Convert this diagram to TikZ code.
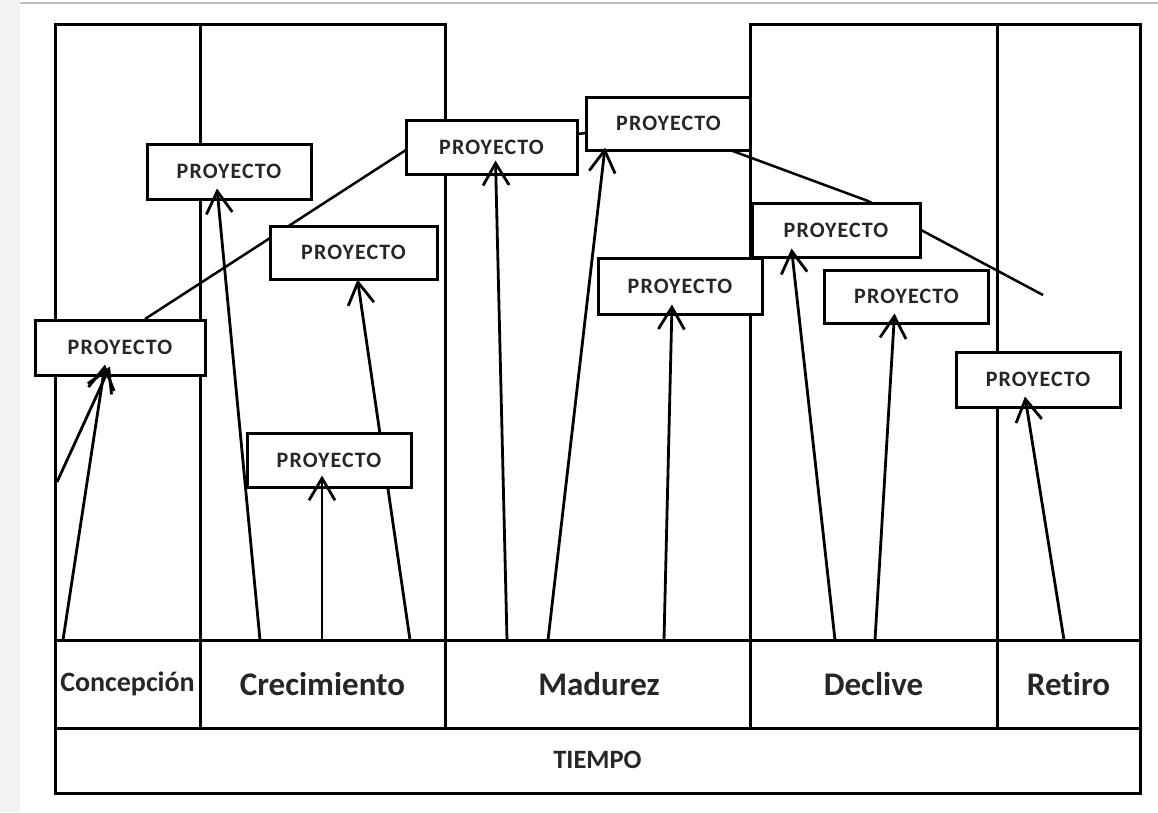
\documentclass[tikz,border=0pt]{standalone}
\usepackage{fontspec}
\setmainfont[Ligatures=NoCommon]{Carlito}
\usetikzlibrary{calc,arrows.meta}

\tikzset{
  marco/.style={line width=3pt, line cap=rect},
  proy/.style={draw, line width=3pt, fill=white, minimum width=164pt, minimum height=55pt,
    inner sep=0pt, text=black!85, font=\bfseries\fontsize{22}{22}\selectfont\addfontfeatures{LetterSpace=5}},
  fase/.style={text=black!85, font=\bfseries\fontsize{33}{33}\selectfont},
  flecha/.style={line width=2.8pt, -{Straight Barb[length=22pt,width=26pt,line width=2.8pt]}},
  curva/.style={line width=2.5pt},
}

\begin{document}
\begin{tikzpicture}[x=1pt,y=-1pt]
\useasboundingbox (0,0) rectangle (1158,812);
\fill[black!5] (0,0) rectangle (20,812);
\draw[black!25,line width=1.5pt] (20,3) -- (1158,3);

% marco de fases
\draw[marco] (445,24) -- (55,24) -- (55,793) -- (1140,793) -- (1140,24) -- (750,24);
\draw[marco] (200,24) -- (200,728)  (445,24) -- (445,728)
             (750,24) -- (750,728)  (997,24) -- (997,728);
\draw[marco] (55,640) -- (1140,640)  (55,728) -- (1140,728);

\node[fase,font=\bfseries\fontsize{28}{28}\selectfont] (concep) at (127.5,684) {Concepción};
\node[fase] (crec) at (322.5,684) {Crecimiento};
\node[fase] (madur) at (599,684) {Madurez};
\node[fase] (decl) at (873.5,684) {Declive};
\node[fase] (retiro) at (1068.5,684) {Retiro};
\node[fase,font=\bfseries\fontsize{26.5}{26.5}\selectfont] (tiempo) at (597.5,760) {TIEMPO};

% curva del ciclo
\coordinate (c0) at (57,482);
\coordinate (c1) at (145,319);
\coordinate (c2) at (406,150);
\coordinate (c3) at (587,133);
\coordinate (c4) at (730,150);
\coordinate (c5) at (868,201);
\coordinate (c6) at (921,230);
\coordinate (c7) at (1043,295);
\draw[curva] (c1) -- (c2) -- (c3) -- (c4) -- (c5) -- (c6) -- (c7);

% proyectos
\node[proy,minimum width=170pt] (pA) at (120,347.5) {PROYECTO};
\node[proy] (pB) at (229,171.5) {PROYECTO};
\node[proy,minimum width=167pt,minimum height=53pt] (pC) at (353.5,252.5) {PROYECTO};
\node[proy,minimum width=171pt,minimum height=54pt] (pE) at (491.5,147) {PROYECTO};
\node[proy,minimum height=53pt] (pF) at (668.5,123.5) {PROYECTO};
\node[proy,minimum height=56pt] (pG) at (680,286) {PROYECTO};
\node[proy,minimum width=168pt,minimum height=54pt] (pH) at (836,230) {PROYECTO};
\node[proy,minimum height=53pt] (pI) at (906.5,296.5) {PROYECTO};
\node[proy] (pJ) at (1038,379.5) {PROYECTO};

% salidas en la linea de fases
\coordinate (sA) at (63,640);
\coordinate (sB) at (260,640);
\coordinate (sD) at (322,640);
\coordinate (sC) at (410,640);
\coordinate (sE) at (507,640);
\coordinate (sF) at (548,640);
\coordinate (sG) at (664,640);
\coordinate (sH) at (835,640);
\coordinate (sI) at (875,640);
\coordinate (sJ) at (1064,640);

\draw[flecha] (c0) -- ($(pA.south)+(-10,-10)$);
\draw[flecha] (sA) -- ($(pA.south)+(-15,-12)$);
\draw[flecha] (sB) -- ($(pB.south)+(-12,-12)$);
\draw[flecha] (sC) -- ($(pC.south)+(4,-1)$);
\draw[flecha] (sE) -- ($(pE.south)+(4,-15)$);
\draw[flecha] (sF) -- ($(pF.south west)+(20,-4)$);
\draw[flecha] (sG) -- ($(pG.south)+(-8,-11)$);
\draw[flecha] (sH) -- ($(pH.south west)+(41,-10)$);
\draw[flecha] (sI) -- ($(pI.south)+(-12,-11)$);
\draw[flecha] (sJ) -- ($(pJ.south)+(-13,-12)$);

% este tapa la flecha de pC
\node[proy,minimum height=54pt] (pD) at (329,460) {PROYECTO};
\draw[flecha] (sD) -- ($(pD.south)+(-7,-13)$);
\end{tikzpicture}
\end{document}
